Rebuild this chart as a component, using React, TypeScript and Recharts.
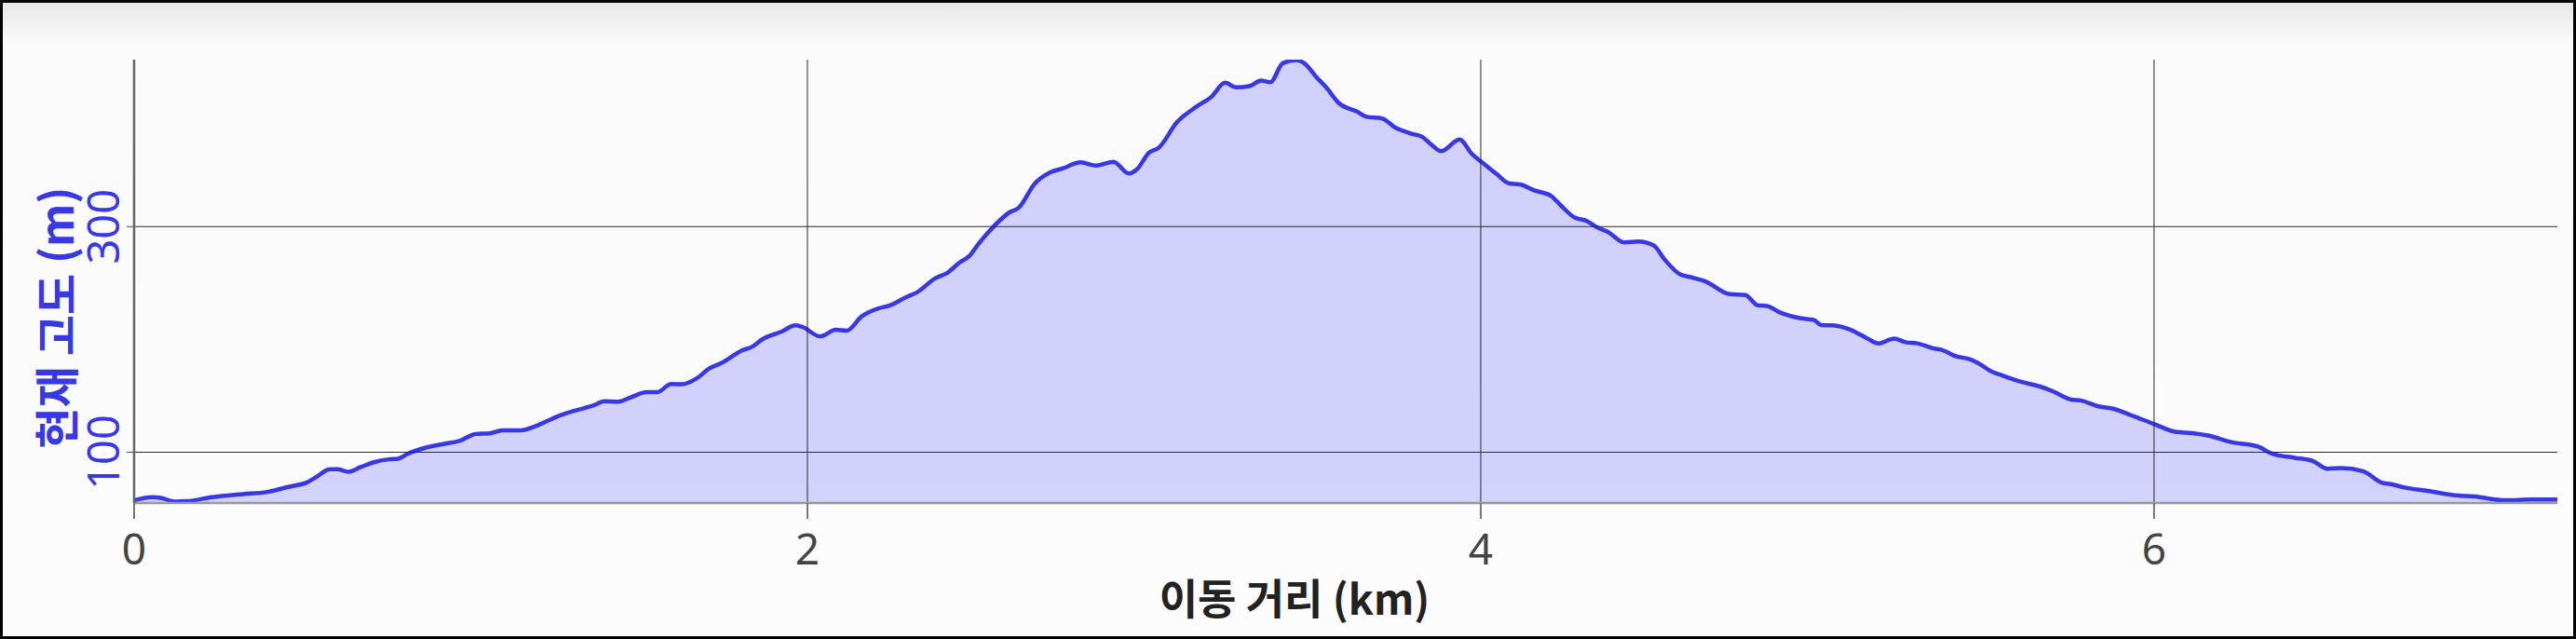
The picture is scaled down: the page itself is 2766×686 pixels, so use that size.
import { AreaChart, Area, XAxis, YAxis, ReferenceLine } from 'recharts'

// distance along the route (km)
const distanceKm = [
  0.0, 0.055, 0.083, 0.12, 0.157, 0.231, 0.323, 0.396, 0.461, 0.512, 0.544, 0.581, 0.604, 0.636,
  0.673, 0.71, 0.756, 0.784, 0.811, 0.867, 0.922, 0.968, 1.014, 1.056, 1.093, 1.148, 1.199, 1.254,
  1.309, 1.365, 1.397, 1.438, 1.475, 1.522, 1.554, 1.595, 1.628, 1.669, 1.711, 1.743, 1.807, 1.835,
  1.867, 1.923, 1.964, 1.983, 2.038, 2.084, 2.116, 2.162, 2.213, 2.241, 2.296, 2.324, 2.379, 2.416,
  2.453, 2.48, 2.508, 2.554, 2.6, 2.628, 2.674, 2.72, 2.757, 2.812, 2.858, 2.909, 2.955, 2.978,
  3.015, 3.043, 3.098, 3.154, 3.2, 3.241, 3.273, 3.315, 3.347, 3.375, 3.412, 3.453, 3.476, 3.513,
  3.541, 3.578, 3.633, 3.661, 3.707, 3.744, 3.79, 3.827, 3.854, 3.882, 3.937, 3.974, 4.002, 4.048,
  4.085, 4.117, 4.159, 4.209, 4.237, 4.279, 4.315, 4.343, 4.38, 4.426, 4.468, 4.514, 4.546, 4.592,
  4.624, 4.666, 4.74, 4.786, 4.823, 4.85, 4.887, 4.952, 4.989, 5.012, 5.044, 5.099, 5.145, 5.182,
  5.228, 5.265, 5.293, 5.348, 5.367, 5.413, 5.45, 5.486, 5.514, 5.551, 5.606, 5.662, 5.699, 5.754,
  5.782, 5.832, 5.883, 5.938, 6.003, 6.067, 6.114, 6.16, 6.233, 6.307, 6.353, 6.418, 6.473, 6.515,
  6.556, 6.621, 6.676, 6.704, 6.741, 6.814, 6.888, 6.953, 7.045, 7.119, 7.198,
]

// current elevation (m)
const elevationM = [
  57.4, 60.2, 59.3, 56.3, 56.6, 60.2, 62.9, 64.8, 69.5, 73.1, 78.6, 84.9, 84.9, 82.7,
  86.8, 90.9, 93.7, 94.2, 98.4, 104.1, 107.4, 110.2, 116.2, 116.8, 119.5, 119.5, 123.9, 131.3,
  136.8, 141.5, 145.3, 144.8, 148.6, 153.3, 153.3, 160.4, 160.2, 165.1, 174.7, 178.8, 190.4, 193.4,
  200.3, 206.9, 212.4, 211.3, 202.7, 208.5, 207.7, 220.6, 227.7, 229.7, 237.9, 241.5, 254.1, 259.1,
  268.4, 273.6, 284.6, 300.3, 312.6, 316.8, 337.6, 347.8, 351.4, 356.9, 354.1, 357.4, 347.0, 350.5,
  365.7, 369.8, 392.6, 406.0, 415.1, 427.5, 423.4, 424.7, 429.4, 428.0, 444.8, 447.5, 444.8, 432.1,
  423.4, 409.6, 401.9, 397.3, 395.9, 388.2, 382.7, 379.4, 372.5, 366.8, 377.2, 364.3, 357.4, 346.4,
  338.2, 337.4, 332.1, 327.2, 319.0, 308.0, 305.0, 299.7, 294.8, 286.0, 286.8, 283.2, 270.9, 257.7,
  255.2, 251.6, 240.1, 239.3, 230.2, 229.7, 224.2, 218.7, 217.3, 212.6, 212.4, 208.5, 201.4, 196.4,
  200.8, 197.3, 196.7, 191.8, 190.9, 184.9, 182.7, 177.5, 172.0, 167.9, 162.4, 158.2, 154.1, 146.7,
  145.9, 140.9, 138.2, 132.1, 124.7, 117.9, 117.0, 114.8, 108.8, 105.2, 98.4, 95.1, 92.0, 85.4,
  86.0, 83.2, 73.1, 71.7, 68.9, 65.7, 62.1, 60.7, 57.4, 58.0, 58.0,
]

const xTicks = [0, 2, 4, 6]
const yTicks = [100, 300]

const BLUE = '#3838e4'

const XTick = ({ x, payload }: any) => (
  <text x={x} y={588} textAnchor="middle" dominantBaseline="central"
    fontSize={46} fill="#444" fontFamily="'Noto Sans', sans-serif">{payload.value}</text>
)

const YTick = ({ y, payload }: any) => (
  <text x={110} y={y} transform={`rotate(-90 110 ${y})`} textAnchor="middle" dominantBaseline="central"
    fontSize={47} fill={BLUE} fontFamily="'Noto Sans', sans-serif">{payload.value}</text>
)

export default function App() {
  const data = distanceKm.map((d, i) => ({ km: d, elev: elevationM[i] }))

  return (
    <div style={{
      position: 'absolute', left: 0, top: 0, width: 2766, height: 686,
      background: 'linear-gradient(to bottom, #e6e6e6 0px, #fafafa 45px, #fcfcfc 100%)',
    }}>
      <AreaChart width={2766} height={686} data={data} margin={{ top: 64, right: 20, bottom: 0, left: 0 }}>
        <XAxis dataKey="km" type="number" domain={[0, 7.198]} ticks={xTicks} height={146}
          axisLine={{ stroke: '#999', strokeWidth: 2.5 }} tickLine={{ stroke: '#777', strokeWidth: 2 }}
          tickSize={17} tick={<XTick />}
          label={{
            content: () => (
              <text x={1390} y={640} textAnchor="middle" dominantBaseline="central" fontSize={45}
                fontWeight={700} fill="#222" fontFamily="'Noto Sans CJK KR', sans-serif">이동 거리 (km)</text>
            ),
          }} />
        <YAxis type="number" domain={[55, 448]} ticks={yTicks} width={144} allowDataOverflow
          axisLine={{ stroke: '#666', strokeWidth: 2.5 }} tickLine={{ stroke: BLUE, strokeWidth: 1 }}
          tickSize={8} tick={<YTick />}
          label={{
            content: () => (
              <text x={58} y={341} transform="rotate(-90 58 341)" textAnchor="middle" dominantBaseline="central"
                fontSize={48} fontWeight={700} fill={BLUE}
                fontFamily="'Noto Sans CJK KR', sans-serif">현재 고도 (m)</text>
            ),
          }} />
        {yTicks.map((t) => (
          <ReferenceLine key={`y${t}`} y={t} stroke="#2a2a2a" strokeWidth={1} />
        ))}
        {xTicks.slice(1).map((t) => (
          <ReferenceLine key={`x${t}`} x={t} stroke="#2a2a2a" strokeWidth={1} />
        ))}
        <Area type="monotone" dataKey="elev" stroke={BLUE} strokeWidth={4.5}
          fill="#0000ff" fillOpacity={0.165} isAnimationActive={false} dot={false} activeDot={false} />
      </AreaChart>
      <div style={{
        position: 'absolute', inset: 0, border: '3px solid #000', boxSizing: 'border-box', pointerEvents: 'none',
      }} />
    </div>
  )
}
